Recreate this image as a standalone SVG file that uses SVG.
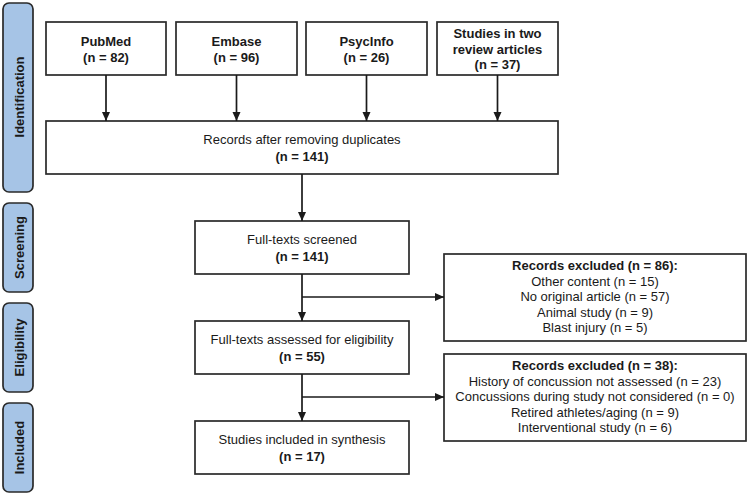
<svg xmlns="http://www.w3.org/2000/svg" width="749" height="496" viewBox="0 0 749 496">
<defs>
<marker id="ah" markerWidth="10" markerHeight="10" refX="9" refY="5" orient="auto" markerUnits="userSpaceOnUse">
<path d="M0,1 L9,5 L0,9 Z" fill="#1a1a1a"/>
</marker>
<style>
.box{fill:#fff;stroke:#2a2a2a;stroke-width:1.7}
.side{fill:#a6c4e6;stroke:#2a2a2a;stroke-width:1.7}
.t{font-family:"Liberation Sans",Arial,sans-serif;font-size:13px;fill:#1a1a1a;text-anchor:middle}
.b{font-weight:bold}
.c{fill:none;stroke:#1a1a1a;stroke-width:1.7}
</style>
</defs>
<rect width="749" height="496" fill="#fff"/>
<g id="stage-identification"><rect class="side" x="3" y="3" width="30" height="189" rx="6"/><text class="t b" transform="translate(24,97) rotate(-90)">Identification</text></g>
<g id="stage-screening"><rect class="side" x="3" y="203" width="30" height="89" rx="6"/><text class="t b" transform="translate(24,247.5) rotate(-90)">Screening</text></g>
<g id="stage-eligibility"><rect class="side" x="3" y="303" width="30" height="89" rx="6"/><text class="t b" transform="translate(24,347.5) rotate(-90)">Eligibility</text></g>
<g id="stage-included"><rect class="side" x="3" y="403" width="30" height="89" rx="6"/><text class="t b" transform="translate(24,447.5) rotate(-90)">Included</text></g>

<g id="pubmed"><rect class="box" x="46" y="22" width="120" height="53"/><text class="t b" x="106" y="46">PubMed</text><text class="t b" x="106" y="62">(n = 82)</text></g>
<g id="embase"><rect class="box" x="176" y="22" width="121" height="53"/><text class="t b" x="236.5" y="46">Embase</text><text class="t b" x="236.5" y="62">(n = 96)</text></g>
<g id="psycinfo"><rect class="box" x="306" y="22" width="121" height="53"/><text class="t b" x="366.5" y="46">PsycInfo</text><text class="t b" x="366.5" y="62">(n = 26)</text></g>
<g id="reviews"><rect class="box" x="437" y="22" width="121" height="53"/><text class="t b" x="497.5" y="38">Studies in two</text><text class="t b" x="497.5" y="53.5">review articles</text><text class="t b" x="497.5" y="69">(n = 37)</text></g>

<g id="records"><rect class="box" x="46" y="121" width="512" height="53"/><text class="t" x="302" y="144">Records after removing duplicates</text><text class="t b" x="302" y="161">(n = 141)</text></g>
<g id="screened"><rect class="box" x="195" y="221" width="214" height="53"/><text class="t" x="302" y="244">Full-texts screened</text><text class="t b" x="302" y="261">(n = 141)</text></g>
<g id="eligible"><rect class="box" x="195" y="321" width="214" height="53"/><text class="t" x="302" y="344">Full-texts assessed for eligibility</text><text class="t b" x="302" y="361">(n = 55)</text></g>
<g id="included"><rect class="box" x="195" y="421" width="214" height="53"/><text class="t" x="302" y="444">Studies included in synthesis</text><text class="t b" x="302" y="461">(n = 17)</text></g>

<g id="excluded1"><rect class="box" x="444" y="254" width="302" height="87"/>
<text class="t b" x="595" y="270">Records excluded (n = 86):</text>
<text class="t" x="595" y="285.5">Other content (n = 15)</text>
<text class="t" x="595" y="301">No original article (n = 57)</text>
<text class="t" x="595" y="316.5">Animal study (n = 9)</text>
<text class="t" x="595" y="332">Blast injury (n = 5)</text></g>
<g id="excluded2"><rect class="box" x="444" y="354" width="302" height="87"/>
<text class="t b" x="595" y="370">Records excluded (n = 38):</text>
<text class="t" x="595" y="385.5">History of concussion not assessed (n = 23)</text>
<text class="t" x="595" y="401">Concussions during study not considered (n = 0)</text>
<text class="t" x="595" y="416.5">Retired athletes/aging (n = 9)</text>
<text class="t" x="595" y="432">Interventional study (n = 6)</text></g>

<g id="connectors">
<line class="c" x1="106" y1="75" x2="106" y2="121" marker-end="url(#ah)"/>
<line class="c" x1="236.5" y1="75" x2="236.5" y2="121" marker-end="url(#ah)"/>
<line class="c" x1="366.5" y1="75" x2="366.5" y2="121" marker-end="url(#ah)"/>
<line class="c" x1="497.5" y1="75" x2="497.5" y2="121" marker-end="url(#ah)"/>
<line class="c" x1="302" y1="174" x2="302" y2="221" marker-end="url(#ah)"/>
<line class="c" x1="302" y1="274" x2="302" y2="321" marker-end="url(#ah)"/>
<line class="c" x1="302" y1="297" x2="444" y2="297" marker-end="url(#ah)"/>
<line class="c" x1="302" y1="374" x2="302" y2="421" marker-end="url(#ah)"/>
<line class="c" x1="302" y1="397" x2="444" y2="397" marker-end="url(#ah)"/>
</g>
</svg>
